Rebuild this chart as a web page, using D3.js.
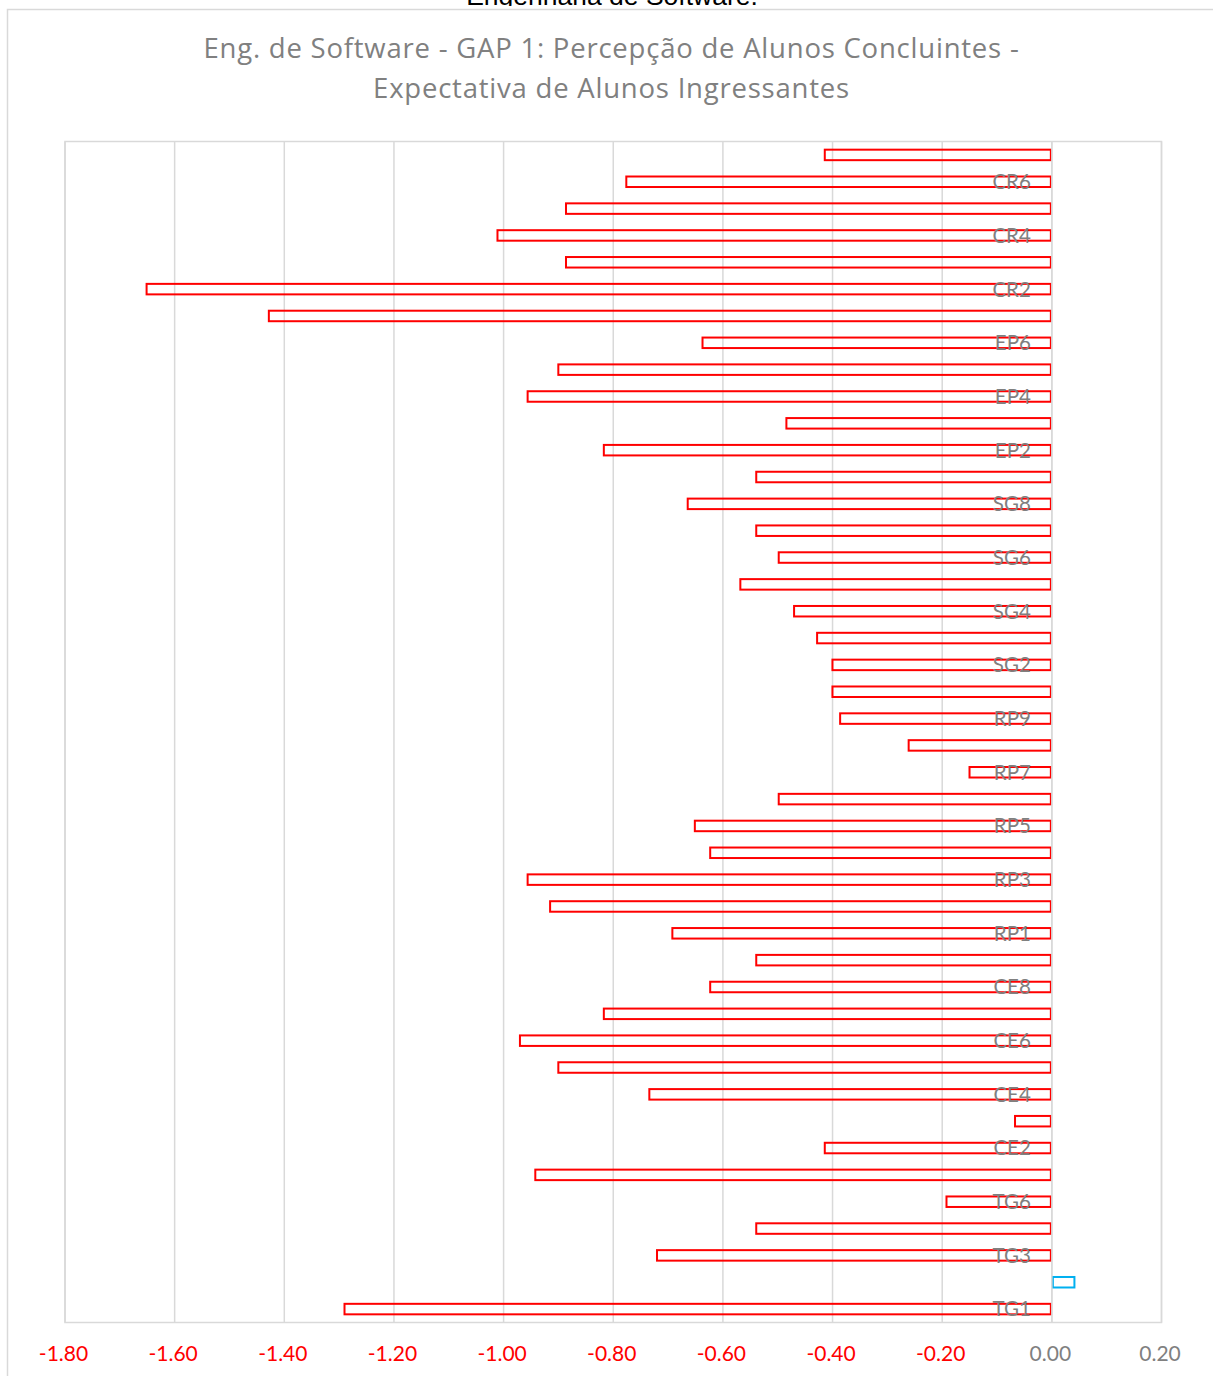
<!DOCTYPE html>
<html>
<head>
<meta charset="utf-8">
<script src="https://cdn.jsdelivr.net/npm/d3@7"></script>
<style>
html,body{margin:0;padding:0;background:#fff;}
svg{display:block;}
</style>
</head>
<body>
<svg id="chart" width="1213" height="1376"></svg>
<script>
// ---- data (bottom to top) ----
const categories = ["TG1","TG2","TG3","TG4","TG6","CE1","CE2","CE3","CE4","CE5","CE6","CE7","CE8","CE9",
  "RP1","RP2","RP3","RP4","RP5","RP6","RP7","RP8","RP9",
  "SG1","SG2","SG3","SG4","SG5","SG6","SG7","SG8",
  "EP1","EP2","EP3","EP4","EP5","EP6",
  "CR1","CR2","CR3","CR4","CR5","CR6","CR7"];
const gapValues = [-1.292,0.043,-0.722,-0.541,-0.194,-0.944,-0.416,-0.069,-0.736,-0.902,-0.972,-0.819,-0.625,-0.541,
  -0.694,-0.917,-0.958,-0.625,-0.653,-0.500,-0.152,-0.263,-0.388,
  -0.402,-0.402,-0.430,-0.472,-0.570,-0.500,-0.541,-0.666,
  -0.541,-0.819,-0.486,-0.958,-0.902,-0.639,
  -1.430,-1.653,-0.888,-1.013,-0.888,-0.778,-0.416];
const xTicks = [-1.8,-1.6,-1.4,-1.2,-1.0,-0.8,-0.6,-0.4,-0.2,0.0,0.2];
const titleLines = ["Eng. de Software - GAP 1: Percepção de Alunos Concluintes -","Expectativa de Alunos Ingressantes"];
const docText = "Engenharia de Software.";

const data = categories.map((c,i)=>({cat:c, v:gapValues[i]}));

const svg = d3.select("#chart");
const W = 1213, H = 1376;
const plot = {left:65, right:1161.5, top:141.5, bottom:1322.5};
const grid = "#d9d9d9";
const gray = "#808080";

svg.append("rect").attr("width",W).attr("height",H).attr("fill","#fff");

// document text clipped at top (as in the reference)
svg.append("defs").append("clipPath").attr("id","topclip")
  .append("rect").attr("x",0).attr("y",0).attr("width",W).attr("height",6);
svg.append("text").attr("clip-path","url(#topclip)")
  .attr("x",612).attr("y",4.5).attr("text-anchor","middle")
  .attr("font-family","'Liberation Sans', Arial, sans-serif").attr("font-size",26.5).attr("fill","#000")
  .text(docText);

// chart outer border
svg.append("rect").attr("x",7.5).attr("y",9.5).attr("width",W+20).attr("height",H+20)
  .attr("fill","none").attr("stroke",grid).attr("stroke-width",1.5);

// title
const title = svg.append("text").attr("text-anchor","middle")
  .attr("font-family","'Open Sans', Lato, sans-serif").attr("font-size",27.5)
  .attr("letter-spacing","0.78px").attr("fill",gray);
titleLines.forEach((t,i)=>{
  title.append("tspan").attr("x",611.5).attr("y",58 + i*39.5).text(t);
});

// scales
const x = d3.scaleLinear().domain([-1.8,0.2]).range([plot.left, plot.right]);
const y = d3.scaleBand().domain(categories).range([plot.bottom, plot.top]).paddingInner(0.6).paddingOuter(0.3);

// gridlines
svg.append("g").selectAll("line").data(xTicks).join("line")
  .attr("x1",d=>x(d)).attr("x2",d=>x(d)).attr("y1",plot.top).attr("y2",plot.bottom)
  .attr("stroke",grid).attr("stroke-width",1.5);

// plot border
svg.append("rect").attr("x",plot.left).attr("y",plot.top)
  .attr("width",plot.right-plot.left).attr("height",plot.bottom-plot.top)
  .attr("fill","none").attr("stroke",grid).attr("stroke-width",1.5);

// bars
svg.append("g").selectAll("rect").data(data).join("rect")
  .attr("x",d=>x(Math.min(0,d.v))+1)
  .attr("width",d=>Math.max(0,Math.abs(x(d.v)-x(0))-2))
  .attr("y",d=>y(d.cat)+y.bandwidth()/2-5.25)
  .attr("height",10.5)
  .attr("fill","none")
  .attr("stroke",d=>d.v<0?"#ff0000":"#00b0f0")
  .attr("stroke-width",2);

// zero axis line
svg.append("line").attr("x1",x(0)).attr("x2",x(0)).attr("y1",plot.top).attr("y2",plot.bottom)
  .attr("stroke",grid).attr("stroke-width",1.5);

// category labels (every other)
svg.append("g").selectAll("text").data(categories.filter((c,i)=>i%2===0)).join("text")
  .attr("x",x(0)-21).attr("y",d=>y(d)+y.bandwidth()/2).attr("dy","0.36em")
  .attr("text-anchor","end")
  .attr("font-family","Lato, sans-serif").attr("font-size",20.5).attr("fill",gray)
  .text(d=>d);

// x axis tick labels
const fmt = d3.format(".2f");
const xAxis = d3.axisBottom(x).tickValues(xTicks).tickSize(0).tickPadding(24)
  .tickFormat(d=>fmt(d).replace("−","-"));
const ax = svg.append("g").attr("transform",`translate(-2,${plot.bottom})`).call(xAxis);
ax.select(".domain").remove();
ax.selectAll("text")
  .attr("font-family","Lato, sans-serif").attr("font-size",21)
  .attr("fill",d=>d<0?"#ff0000":gray);
</script>
</body>
</html>
